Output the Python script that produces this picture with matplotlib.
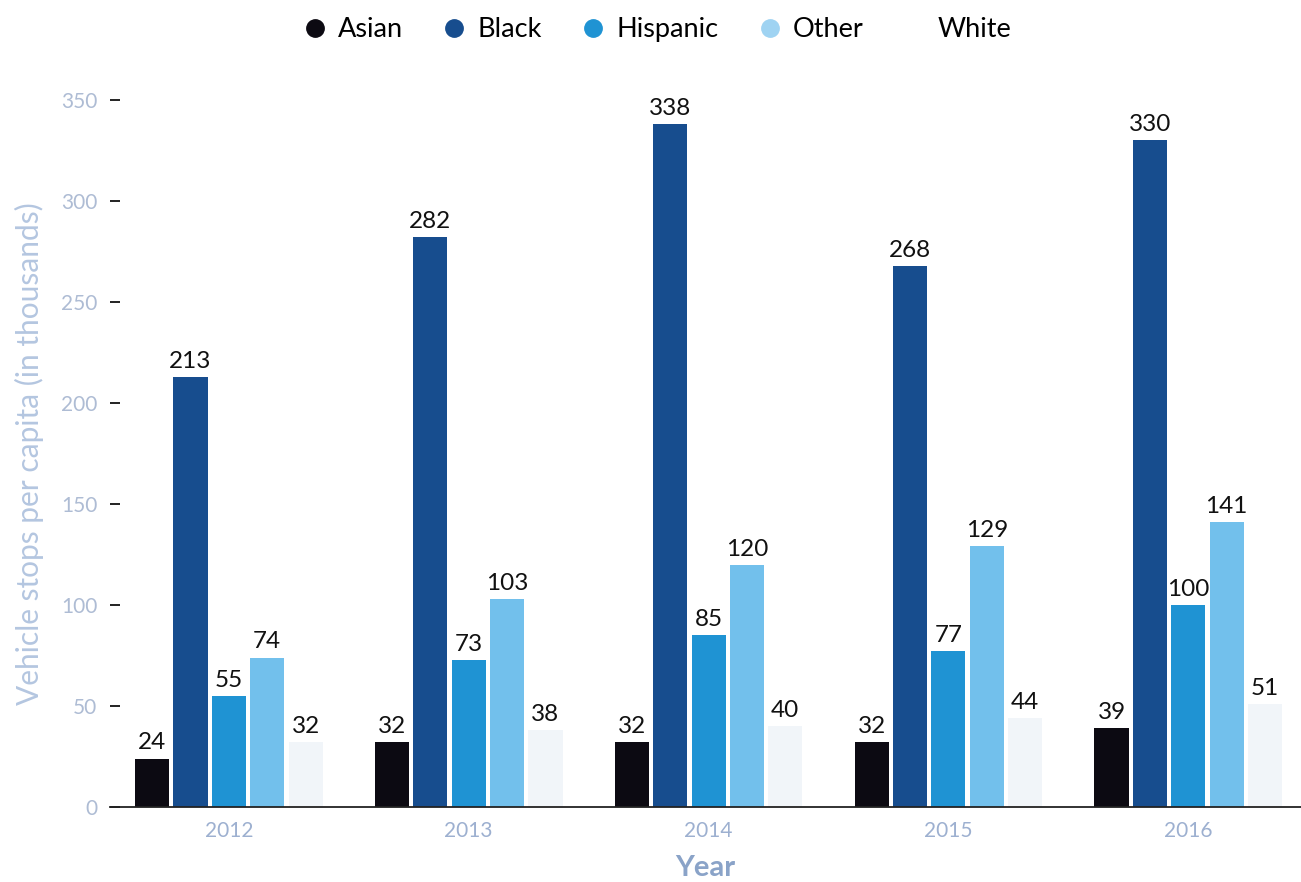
import matplotlib
matplotlib.use("Agg")
import matplotlib.pyplot as plt
import numpy as np
from matplotlib.lines import Line2D

plt.rcParams['font.family'] = ['Lato', 'DejaVu Sans']

years = ["2012", "2013", "2014", "2015", "2016"]
groups = ["Asian", "Black", "Hispanic", "Other", "White"]
asian = [24, 32, 32, 32, 39]
black = [213, 282, 338, 268, 330]
hispanic = [55, 73, 85, 77, 100]
other = [74, 103, 120, 129, 141]
white = [32, 38, 40, 44, 51]
yticks = [0, 50, 100, 150, 200, 250, 300, 350]

series = [asian, black, hispanic, other, white]
colors = ["#0c0a12", "#174d8e", "#1f93d3", "#72c0ec", "#f1f5f9"]
legend_colors = ["#0c0a12", "#174d8e", "#1f93d3", "#9fd3f2", "#ffffff"]

fig = plt.figure(figsize=(13.01, 8.82), dpi=100)
ax = fig.add_axes([0.0845, 0.085, 0.9155, 0.8016])

x = np.arange(len(years))
step = 0.16
width = 0.142
for i, (vals, col) in enumerate(zip(series, colors)):
    pos = x + (i - 2) * step
    ax.bar(pos, vals, width=width, color=col, zorder=2)
    for px, v in zip(pos, vals):
        ax.text(px, v + 2.5, str(v), ha="center", va="bottom",
                fontsize=17.5, color="#111111", clip_on=False)

ax.set_xlim(-0.496, 4.47)
ax.set_ylim(0, 350)
ax.set_yticks(yticks)
ax.set_xticks(x)
ax.set_xticklabels(years)

for side in ["left", "right", "top"]:
    ax.spines[side].set_visible(False)
ax.spines["bottom"].set_color("#222222")
ax.spines["bottom"].set_linewidth(1.3)

ax.tick_params(axis="y", direction="in", length=7.2, width=1.4, color="#222222",
               labelcolor="#aebcd4", labelsize=15, pad=9)
ax.tick_params(axis="x", length=0, labelcolor="#9db0d0", labelsize=15, pad=10)

ax.set_ylabel("Vehicle stops per capita (in thousands)", color="#b4c6e0",
              fontsize=21.5, labelpad=12)
ax.set_xlabel("Year", color="#8aa3c8", fontsize=21, fontweight="bold", labelpad=10)

handles = [Line2D([0], [0], marker="o", linestyle="none", markersize=12.5,
                  markerfacecolor=c, markeredgecolor=c) for c in legend_colors]
fig.legend(handles, groups, loc="upper center", bbox_to_anchor=(0.504, 1.008),
           ncol=5, frameon=False, fontsize=19.5, handletextpad=0.3,
           columnspacing=1.35, handlelength=1.1)

fig.savefig("out.png", dpi=100)
